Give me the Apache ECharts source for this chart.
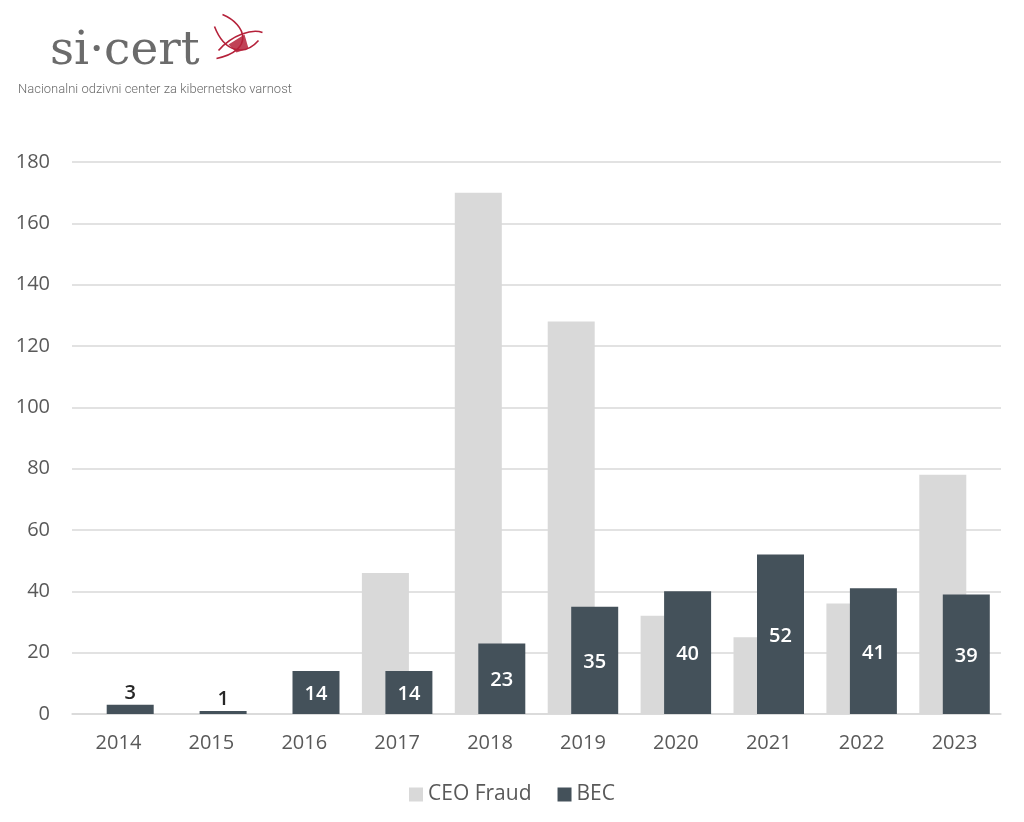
<!DOCTYPE html>
<html><head><meta charset="utf-8">
<script src="https://cdn.jsdelivr.net/npm/echarts@6/dist/echarts.min.js"></script>
<style>html,body{margin:0;padding:0;background:#fff}#c{width:1024px;height:822px}</style>
</head><body><div id="c"></div>
<script>
const years = ['2014','2015','2016','2017','2018','2019','2020','2021','2022','2023'];
const ceoFraud = [0, 0, 0, 46, 170, 128, 32, 25, 36, 78];
const bec = [3, 1, 14, 14, 23, 35, 40, 52, 41, 39];
const yTicks = {min: 0, max: 180, interval: 20};
const seriesNames = ['CEO Fraud', 'BEC'];
const logoText = 'si·cert';
const logoSub = 'Nacionalni odzivni center za kibernetsko varnost';

const chart = echarts.init(document.getElementById('c'), null, {renderer: 'canvas'});
const font = '"Open Sans", "Noto Sans", sans-serif';
chart.setOption({
  animation: false,
  backgroundColor: '#fff',
  grid: {left: 72, right: 23, top: 162, bottom: 108, containLabel: false},
  legend: {
    data: seriesNames, bottom: 12, left: 'center', itemWidth: 14, itemHeight: 14, itemGap: 26,
    icon: 'rect',
    textStyle: {color: '#595959', fontSize: 21, fontFamily: font}
  },
  xAxis: {
    type: 'category', data: years,
    axisLine: {lineStyle: {color: '#d9d9d9', width: 1.5}},
    axisTick: {show: false},
    axisLabel: {color: '#595959', fontSize: 20, fontFamily: font, margin: 19}
  },
  yAxis: {
    type: 'value', min: yTicks.min, max: yTicks.max, interval: yTicks.interval,
    axisLine: {show: false}, axisTick: {show: false},
    axisLabel: {color: '#595959', fontSize: 20, fontFamily: font, margin: 22},
    splitLine: {lineStyle: {color: '#d9d9d9', width: 1.5}}
  },
  series: [
    {name: seriesNames[0], type: 'bar', data: ceoFraud, barWidth: 47, barGap: '-50%',
     itemStyle: {color: '#d9d9d9'}},
    {name: seriesNames[1], type: 'bar', data: bec.map((v,i)=>({
        value: v,
        label: i < 2 ? {position: 'top', color: '#262626', distance: 4} : undefined
      })), barWidth: 47,
     itemStyle: {color: '#44515a'},
     label: {show: true, position: 'inside', offset: [0, 2], color: '#fff', fontSize: 20, fontWeight: 600, fontFamily: font}}
  ],
  graphic: [
    {type: 'text', left: 50, top: 28, style: {text: logoText, fill: '#6b6b6b', font: '300 47px "DejaVu Serif", "Liberation Serif", serif'}},
    {type: 'text', left: 18, top: 83, style: {text: logoSub, fill: '#6b6b6b', font: '300 13px Roboto, "Open Sans", sans-serif'}},
    {type: 'group', left: 212, top: 12, children: [
      {type: 'bezierCurve', shape: {x1: 8, y1: 0, x2: 2, y2: 44, cpx1: 32, cpy1: 10, cpx2: 40, cpy2: 36}, style: {stroke: '#b5213a', lineWidth: 1.6, fill: 'none'}},
      {type: 'bezierCurve', shape: {x1: 0, y1: 12, x2: 44, y2: 26, cpx1: 10, cpy1: 38, cpx2: 30, cpy2: 42}, style: {stroke: '#b5213a', lineWidth: 1.6, fill: 'none'}},
      {type: 'bezierCurve', shape: {x1: 4, y1: 36, x2: 48, y2: 18, cpx1: 18, cpy1: 20, cpx2: 38, cpy2: 14}, style: {stroke: '#b5213a', lineWidth: 1.6, fill: 'none'}},
      {type: 'polygon', shape: {points: [[14,30],[30,20],[34,34],[22,38]]}, style: {fill: '#b5213a', opacity: 0.85}}
    ]}
  ]
});
</script></body></html>
